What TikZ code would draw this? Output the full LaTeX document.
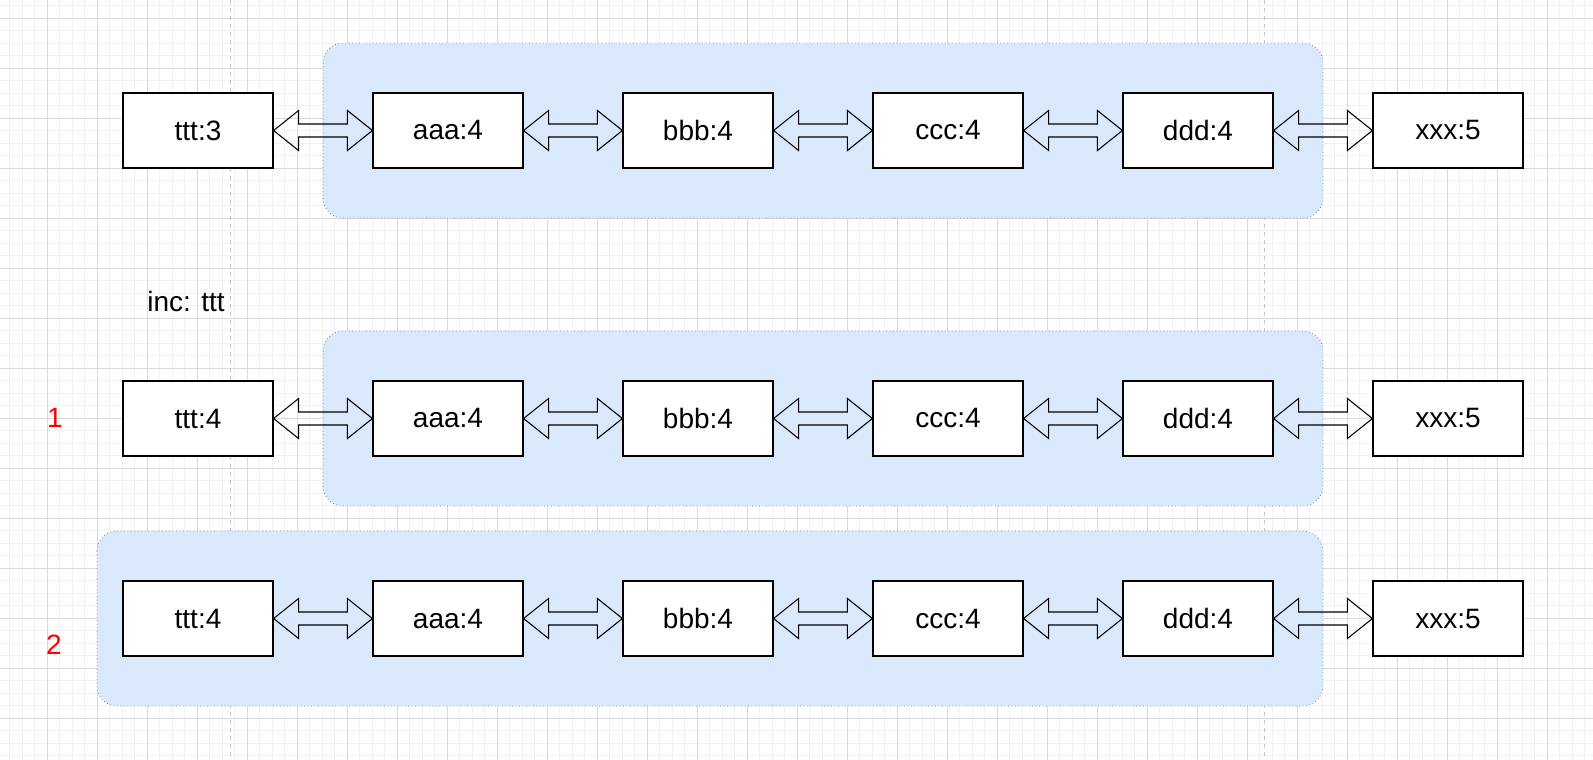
\documentclass[tikz,border=0pt]{standalone}
\usepackage{fontspec}
\setmainfont{Liberation Sans}
\usetikzlibrary{calc}
\definecolor{gridminor}{HTML}{F1F1F1}
\definecolor{gridmajor}{HTML}{D9D9D9}
\definecolor{guide}{HTML}{C4C4C4}
\definecolor{contfill}{HTML}{DAE8FC}
\definecolor{contdraw}{HTML}{6C8EBF}
\tikzset{
  cell/.style={draw=black, fill=white, line width=0.9pt, minimum width=112.5pt, minimum height=56.25pt, inner sep=0pt, font=\fontsize{21}{25}\selectfont},
  container/.style={draw=contdraw, fill=contfill, line width=0.6pt, dotted, rounded corners=15pt},
  blockarrow/.style={draw=black, line width=0.8pt, line join=miter},
  guideline/.style={draw=guide, line width=0.8pt, dash pattern=on 3pt off 3pt},
  label/.style={font=\fontsize{21}{25}\selectfont, inner sep=0pt},
  redlabel/.style={label, text=red}
}
\newcommand\dblarrow[2]{\draw[blockarrow] (#1.east) -- ++(25,-20) -- ++(0,13.5) -- ($(#2.west)+(-25,-6.5)$) -- ++(0,-13.5) -- (#2.west) -- ++(-25,20) -- ++(0,-13.5) -- ($(#1.east)+(25,6.5)$) -- ++(0,13.5) -- cycle;}
\begin{document}
\begin{tikzpicture}[x=0.75pt, y=-0.75pt]
\useasboundingbox (0,0) rectangle (1593,760);
\fill[white] (0,0) rectangle (1593,760);
% grid
\foreach \x in {9.5,22,...,1593} \draw[gridminor, line width=0.75pt] (\x,0) -- (\x,760);
\foreach \y in {5.5,18,...,760} \draw[gridminor, line width=0.75pt] (0,\y) -- (1593,\y);
\foreach \x in {47,97,...,1593} \draw[gridmajor, line width=0.75pt] (\x,0) -- (\x,760);
\foreach \y in {18,68,...,760} \draw[gridmajor, line width=0.75pt] (0,\y) -- (1593,\y);
% guides
\draw[guideline] (230.5,0) -- (230.5,760);
\draw[guideline] (1264.5,0) -- (1264.5,760);
% containers
\draw[container] (323,43) rectangle (1323,218);
\draw[container] (323,331) rectangle (1323,506);
\draw[container] (97,531) rectangle (1323,706);
% rows
\foreach \r/\y/\t in {a/130.5/3, b/418.5/4, c/618.5/4}{
  \node[cell] (\r1) at (198,\y) {ttt:\t};
  \node[cell] (\r2) at (448,\y) {aaa:4};
  \node[cell] (\r3) at (698,\y) {bbb:4};
  \node[cell] (\r4) at (948,\y) {ccc:4};
  \node[cell] (\r5) at (1198,\y) {ddd:4};
  \node[cell] (\r6) at (1448,\y) {xxx:5};
  \dblarrow{\r1}{\r2}
  \dblarrow{\r2}{\r3}
  \dblarrow{\r3}{\r4}
  \dblarrow{\r4}{\r5}
  \dblarrow{\r5}{\r6}
}
\node[label] (inc) at (186,301) {inc: ttt};
\node[redlabel] (one) at (55,418) {1};
\node[redlabel] (two) at (54,645) {2};
\end{tikzpicture}
\end{document}
